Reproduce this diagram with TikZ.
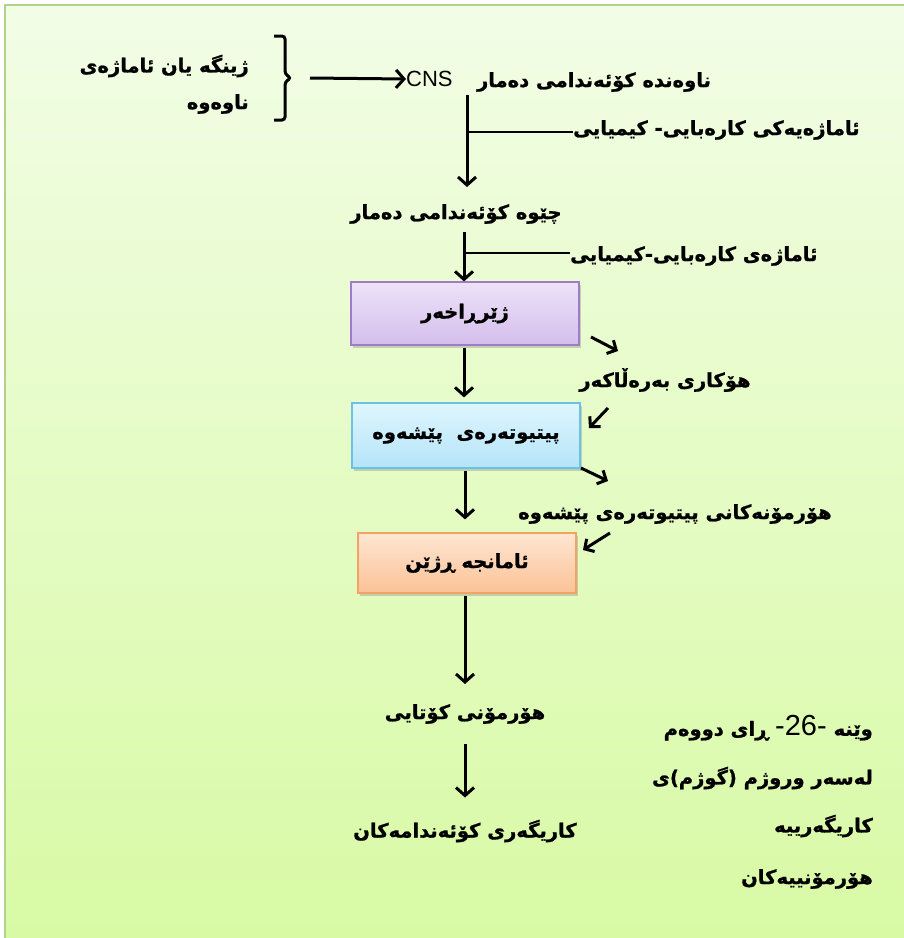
\documentclass[tikz,border=0pt]{standalone}
\usepackage{fontspec}
\setmainfont{Liberation Sans}
\newfontfamily\arb[Script=Arabic,FakeBold=1]{DejaVu Sans Bold}
\newfontfamily\lat{Liberation Sans}
\TeXXeTstate=1
\usetikzlibrary{arrows.meta,shadows}

\definecolor{bgtop}{HTML}{F2FDE6}
\definecolor{bgbot}{HTML}{D8FAA4}
\definecolor{bgedge}{HTML}{B2D28A}
\definecolor{purtop}{HTML}{EEE2F8}
\definecolor{purbot}{HTML}{D4BEEC}
\definecolor{purline}{HTML}{9E7CC6}
\definecolor{blutop}{HTML}{DFF6FD}
\definecolor{blubot}{HTML}{B4E4F8}
\definecolor{bluline}{HTML}{6CC2E6}
\definecolor{orgtop}{HTML}{FEE6D2}
\definecolor{orgbot}{HTML}{FBC296}
\definecolor{orgline}{HTML}{F2A264}

\newcommand\rtl[1]{\beginR#1\endR}

\tikzset{
  lbl/.style={font=\arb\fontsize{19.5}{22}\selectfont, inner sep=0pt, text=black},
  flow/.style={line width=3pt, -{Straight Barb[length=8pt,width=18pt]}},
  branch/.style={line width=2.6pt},
  smallarrow/.style={line width=3pt, -{Straight Barb[length=7pt,width=15pt]}},
  stagebox/.style={lbl, minimum width=228pt, minimum height=63pt, line width=1.2pt,
    drop shadow={shadow xshift=2pt, shadow yshift=-3pt, opacity=0.35, fill=gray}},
}

\begin{document}
\begin{tikzpicture}[x=1pt,y=-1pt]
  \useasboundingbox (0,0) rectangle (904,938);
  % page background
  \fill[white] (0,0) rectangle (904,938);
  \shade[top color=bgtop, bottom color=bgbot, draw=bgedge, line width=1.5pt]
    (5,5) rectangle (912,946);

  % stimulus and brace
  \node[lbl, anchor=east] (stim1) at (249,66) {\rtl{ژینگە یان ئاماژەی}};
  \node[lbl, anchor=east] (stim2) at (249,104) {\rtl{ناوەوە}};
  \draw[line width=3pt, rounded corners=3pt]
    (274,36) -- (285,36) -- (285,74) -- (291,78) -- (285,82) -- (285,120) -- (274,120);
  \coordinate (brace) at (310,78);

  % central nervous system
  \node[font=\lat\fontsize{22}{24}\selectfont, inner sep=0pt, anchor=west] (cns) at (406,79) {CNS};
  \draw[flow] (brace) -- (cns.west);
  \node[lbl] (cnsname) at (594,82) {\rtl{ناوەندە کۆئەندامی دەمار}};

  \coordinate (stem1) at (467,95);
  \node[lbl] (periph) at (456,214) {\rtl{چێوە کۆئەندامی دەمار}};
  \draw[flow] (stem1) -- (467,187);
  \node[lbl, anchor=west] (sig1) at (573,130) {\rtl{ئاماژەیەکی کارەبایی- کیمیایی}};
  \draw[branch] (467,132) -- (sig1.west |- 0,132);

  % hypothalamus
  \node[stagebox, top color=purtop, bottom color=purbot, draw=purline] (hypo) at (465,313.5) {\rtl{ژێرڕاخەر}};
  \draw[flow] (464,232) -- (hypo.north -| 464,0);
  \node[lbl, anchor=west] (sig2) at (570,256) {\rtl{ئاماژەی کارەبایی-کیمیایی}};
  \draw[branch] (464,253) -- (sig2.west |- 0,253);

  % releasing factor
  \node[lbl] (relf) at (665,380) {\rtl{هۆکاری بەرەڵاکەر}};
  \draw[smallarrow] (591,337) -- (618,351);

  % anterior pituitary
  \node[stagebox, minimum height=65pt, top color=blutop, bottom color=blubot, draw=bluline] (pit) at (466,435.5) {\rtl{پیتیوتەرەی\ \ پێشەوە}};
  \draw[flow, shorten <=2pt, shorten >=5pt] (hypo.south -| 464,0) -- (pit.north -| 464,0);
  \draw[smallarrow] (608,408) -- (589,428);

  % pituitary hormones
  \node[lbl] (pithorm) at (675,514) {\rtl{هۆرمۆنەکانی پیتیوتەرەی پێشەوە}};
  \draw[smallarrow] (581,468) -- (608,481);

  % target gland
  \node[stagebox, minimum width=218pt, minimum height=60pt, top color=orgtop, bottom color=orgbot, draw=orgline] (gland) at (467,563) {\rtl{ئامانجە ڕژێن}};
  \draw[flow, shorten <=2pt, shorten >=13pt] (pit.south -| 465,0) -- (gland.north -| 465,0);
  \draw[smallarrow] (610,533) -- (583,550);

  % final hormone and effect
  \node[lbl] (finalh) at (465,714) {\rtl{هۆرمۆنی کۆتایی}};
  \draw[flow, shorten <=2pt, shorten >=20pt] (gland.south -| 465,0) -- (finalh.north -| 465,0);
  \node[lbl] (effect) at (465,831) {\rtl{کاریگەری کۆئەندامەکان}};
  \draw[flow, shorten <=20pt, shorten >=22pt] (finalh.south -| 465,0) -- (effect.north -| 465,0);

  % caption
  \node[lbl, anchor=east] (cap1) at (873,728) {\rtl{وێنە\ {\lat\fontsize{29}{30}\selectfont\beginL -26-\endL}\ ڕای دووەم}};
  \node[lbl, anchor=east] (cap2) at (873,778) {\rtl{لەسەر وروژم (گوژم)ی}};
  \node[lbl, anchor=east] (cap3) at (873,826) {\rtl{کاریگەرییە}};
  \node[lbl, anchor=east] (cap4) at (873,879) {\rtl{هۆرمۆنییەکان}};
\end{tikzpicture}
\end{document}
